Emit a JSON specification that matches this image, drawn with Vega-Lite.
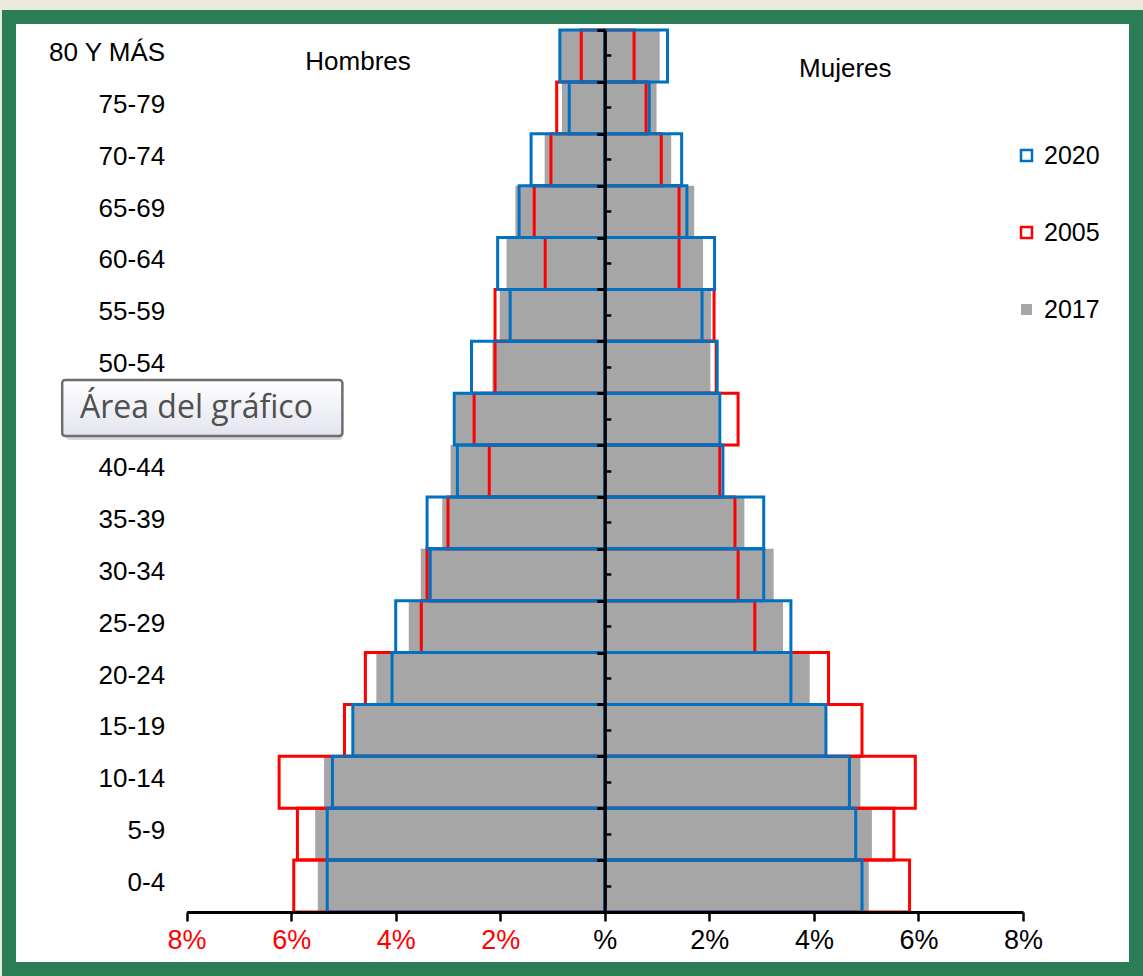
{
  "$schema": "https://vega.github.io/schema/vega-lite/v6.json",
  "width": 1127,
  "height": 952,
  "autosize": {"type": "none"},
  "padding": {"left": 9, "top": 17, "right": 7, "bottom": 7},
  "background": "#ebe9dc",
  "config": {
    "view": {"fill": "#ffffff", "stroke": "#2a7d55", "strokeWidth": 14},
    "font": "Liberation Sans",
    "axis": {"grid": false}
  },
  "datasets": {
    "pob": [
      {"edad": "80 Y MÁS", "sexo": "Hombres", "serie": "2017", "valor": -0.84},
      {"edad": "80 Y MÁS", "sexo": "Mujeres", "serie": "2017", "valor": 1.05},
      {"edad": "75-79", "sexo": "Hombres", "serie": "2017", "valor": -0.82},
      {"edad": "75-79", "sexo": "Mujeres", "serie": "2017", "valor": 0.99},
      {"edad": "70-74", "sexo": "Hombres", "serie": "2017", "valor": -1.15},
      {"edad": "70-74", "sexo": "Mujeres", "serie": "2017", "valor": 1.27},
      {"edad": "65-69", "sexo": "Hombres", "serie": "2017", "valor": -1.71},
      {"edad": "65-69", "sexo": "Mujeres", "serie": "2017", "valor": 1.71},
      {"edad": "60-64", "sexo": "Hombres", "serie": "2017", "valor": -1.88},
      {"edad": "60-64", "sexo": "Mujeres", "serie": "2017", "valor": 1.88},
      {"edad": "55-59", "sexo": "Hombres", "serie": "2017", "valor": -2.01},
      {"edad": "55-59", "sexo": "Mujeres", "serie": "2017", "valor": 2.03},
      {"edad": "50-54", "sexo": "Hombres", "serie": "2017", "valor": -2.15},
      {"edad": "50-54", "sexo": "Mujeres", "serie": "2017", "valor": 2.02},
      {"edad": "45-49", "sexo": "Hombres", "serie": "2017", "valor": -2.86},
      {"edad": "45-49", "sexo": "Mujeres", "serie": "2017", "valor": 2.18},
      {"edad": "40-44", "sexo": "Hombres", "serie": "2017", "valor": -2.95},
      {"edad": "40-44", "sexo": "Mujeres", "serie": "2017", "valor": 2.22},
      {"edad": "35-39", "sexo": "Hombres", "serie": "2017", "valor": -3.11},
      {"edad": "35-39", "sexo": "Mujeres", "serie": "2017", "valor": 2.67},
      {"edad": "30-34", "sexo": "Hombres", "serie": "2017", "valor": -3.52},
      {"edad": "30-34", "sexo": "Mujeres", "serie": "2017", "valor": 3.23},
      {"edad": "25-29", "sexo": "Hombres", "serie": "2017", "valor": -3.75},
      {"edad": "25-29", "sexo": "Mujeres", "serie": "2017", "valor": 3.41},
      {"edad": "20-24", "sexo": "Hombres", "serie": "2017", "valor": -4.37},
      {"edad": "20-24", "sexo": "Mujeres", "serie": "2017", "valor": 3.92},
      {"edad": "15-19", "sexo": "Hombres", "serie": "2017", "valor": -4.80},
      {"edad": "15-19", "sexo": "Mujeres", "serie": "2017", "valor": 4.22},
      {"edad": "10-14", "sexo": "Hombres", "serie": "2017", "valor": -5.37},
      {"edad": "10-14", "sexo": "Mujeres", "serie": "2017", "valor": 4.89},
      {"edad": "5-9", "sexo": "Hombres", "serie": "2017", "valor": -5.54},
      {"edad": "5-9", "sexo": "Mujeres", "serie": "2017", "valor": 5.11},
      {"edad": "0-4", "sexo": "Hombres", "serie": "2017", "valor": -5.49},
      {"edad": "0-4", "sexo": "Mujeres", "serie": "2017", "valor": 5.05},
      {"edad": "80 Y MÁS", "sexo": "Hombres", "serie": "2005", "valor": -0.45},
      {"edad": "80 Y MÁS", "sexo": "Mujeres", "serie": "2005", "valor": 0.56},
      {"edad": "75-79", "sexo": "Hombres", "serie": "2005", "valor": -0.92},
      {"edad": "75-79", "sexo": "Mujeres", "serie": "2005", "valor": 0.79},
      {"edad": "70-74", "sexo": "Hombres", "serie": "2005", "valor": -1.03},
      {"edad": "70-74", "sexo": "Mujeres", "serie": "2005", "valor": 1.08},
      {"edad": "65-69", "sexo": "Hombres", "serie": "2005", "valor": -1.35},
      {"edad": "65-69", "sexo": "Mujeres", "serie": "2005", "valor": 1.42},
      {"edad": "60-64", "sexo": "Hombres", "serie": "2005", "valor": -1.14},
      {"edad": "60-64", "sexo": "Mujeres", "serie": "2005", "valor": 1.42},
      {"edad": "55-59", "sexo": "Hombres", "serie": "2005", "valor": -2.10},
      {"edad": "55-59", "sexo": "Mujeres", "serie": "2005", "valor": 2.09},
      {"edad": "50-54", "sexo": "Hombres", "serie": "2005", "valor": -2.10},
      {"edad": "50-54", "sexo": "Mujeres", "serie": "2005", "valor": 2.13},
      {"edad": "45-49", "sexo": "Hombres", "serie": "2005", "valor": -2.50},
      {"edad": "45-49", "sexo": "Mujeres", "serie": "2005", "valor": 2.55},
      {"edad": "40-44", "sexo": "Hombres", "serie": "2005", "valor": -2.21},
      {"edad": "40-44", "sexo": "Mujeres", "serie": "2005", "valor": 2.20},
      {"edad": "35-39", "sexo": "Hombres", "serie": "2005", "valor": -3.00},
      {"edad": "35-39", "sexo": "Mujeres", "serie": "2005", "valor": 2.49},
      {"edad": "30-34", "sexo": "Hombres", "serie": "2005", "valor": -3.40},
      {"edad": "30-34", "sexo": "Mujeres", "serie": "2005", "valor": 2.55},
      {"edad": "25-29", "sexo": "Hombres", "serie": "2005", "valor": -3.51},
      {"edad": "25-29", "sexo": "Mujeres", "serie": "2005", "valor": 2.87},
      {"edad": "20-24", "sexo": "Hombres", "serie": "2005", "valor": -4.58},
      {"edad": "20-24", "sexo": "Mujeres", "serie": "2005", "valor": 4.28},
      {"edad": "15-19", "sexo": "Hombres", "serie": "2005", "valor": -4.98},
      {"edad": "15-19", "sexo": "Mujeres", "serie": "2005", "valor": 4.92},
      {"edad": "10-14", "sexo": "Hombres", "serie": "2005", "valor": -6.23},
      {"edad": "10-14", "sexo": "Mujeres", "serie": "2005", "valor": 5.94},
      {"edad": "5-9", "sexo": "Hombres", "serie": "2005", "valor": -5.88},
      {"edad": "5-9", "sexo": "Mujeres", "serie": "2005", "valor": 5.53},
      {"edad": "0-4", "sexo": "Hombres", "serie": "2005", "valor": -5.95},
      {"edad": "0-4", "sexo": "Mujeres", "serie": "2005", "valor": 5.83},
      {"edad": "80 Y MÁS", "sexo": "Hombres", "serie": "2020", "valor": -0.86},
      {"edad": "80 Y MÁS", "sexo": "Mujeres", "serie": "2020", "valor": 1.20},
      {"edad": "75-79", "sexo": "Hombres", "serie": "2020", "valor": -0.68},
      {"edad": "75-79", "sexo": "Mujeres", "serie": "2020", "valor": 0.85},
      {"edad": "70-74", "sexo": "Hombres", "serie": "2020", "valor": -1.41},
      {"edad": "70-74", "sexo": "Mujeres", "serie": "2020", "valor": 1.47},
      {"edad": "65-69", "sexo": "Hombres", "serie": "2020", "valor": -1.64},
      {"edad": "65-69", "sexo": "Mujeres", "serie": "2020", "valor": 1.57},
      {"edad": "60-64", "sexo": "Hombres", "serie": "2020", "valor": -2.05},
      {"edad": "60-64", "sexo": "Mujeres", "serie": "2020", "valor": 2.10},
      {"edad": "55-59", "sexo": "Hombres", "serie": "2020", "valor": -1.81},
      {"edad": "55-59", "sexo": "Mujeres", "serie": "2020", "valor": 1.86},
      {"edad": "50-54", "sexo": "Hombres", "serie": "2020", "valor": -2.55},
      {"edad": "50-54", "sexo": "Mujeres", "serie": "2020", "valor": 2.15},
      {"edad": "45-49", "sexo": "Hombres", "serie": "2020", "valor": -2.88},
      {"edad": "45-49", "sexo": "Mujeres", "serie": "2020", "valor": 2.20},
      {"edad": "40-44", "sexo": "Hombres", "serie": "2020", "valor": -2.82},
      {"edad": "40-44", "sexo": "Mujeres", "serie": "2020", "valor": 2.26},
      {"edad": "35-39", "sexo": "Hombres", "serie": "2020", "valor": -3.40},
      {"edad": "35-39", "sexo": "Mujeres", "serie": "2020", "valor": 3.04},
      {"edad": "30-34", "sexo": "Hombres", "serie": "2020", "valor": -3.34},
      {"edad": "30-34", "sexo": "Mujeres", "serie": "2020", "valor": 3.04},
      {"edad": "25-29", "sexo": "Hombres", "serie": "2020", "valor": -4.00},
      {"edad": "25-29", "sexo": "Mujeres", "serie": "2020", "valor": 3.56},
      {"edad": "20-24", "sexo": "Hombres", "serie": "2020", "valor": -4.07},
      {"edad": "20-24", "sexo": "Mujeres", "serie": "2020", "valor": 3.56},
      {"edad": "15-19", "sexo": "Hombres", "serie": "2020", "valor": -4.82},
      {"edad": "15-19", "sexo": "Mujeres", "serie": "2020", "valor": 4.23},
      {"edad": "10-14", "sexo": "Hombres", "serie": "2020", "valor": -5.21},
      {"edad": "10-14", "sexo": "Mujeres", "serie": "2020", "valor": 4.68},
      {"edad": "5-9", "sexo": "Hombres", "serie": "2020", "valor": -5.31},
      {"edad": "5-9", "sexo": "Mujeres", "serie": "2020", "valor": 4.80},
      {"edad": "0-4", "sexo": "Hombres", "serie": "2020", "valor": -5.31},
      {"edad": "0-4", "sexo": "Mujeres", "serie": "2020", "valor": 4.92}
    ]
  },
  "layer": [
    {
      "data": {"name": "pob"},
      "mark": {"type": "bar", "strokeWidth": 3, "strokeJoin": "miter"},
      "encoding": {
        "y": {
          "field": "edad",
          "type": "nominal",
          "scale": {
            "domain": ["80 Y MÁS", "75-79", "70-74", "65-69", "60-64", "55-59", "50-54", "45-49", "40-44", "35-39", "30-34", "25-29", "20-24", "15-19", "10-14", "5-9", "0-4"],
            "range": [13, 895],
            "paddingInner": 0,
            "paddingOuter": 0
          },
          "axis": {
            "orient": "left",
            "offset": -177.6,
            "domain": false,
            "ticks": false,
            "tickSize": 0,
            "labelPadding": 22,
            "labelFontSize": 26,
            "labelFont": "Liberation Sans",
            "labelColor": "#000000",
            "labelOffset": -3,
            "labelExpr": "datum.value == '45-49' ? '' : datum.value",
            "title": null,
            "zindex": 0
          }
        },
        "x": {
          "field": "valor",
          "type": "quantitative",
          "stack": null,
          "scale": {"domain": [-8, 8], "range": [177.6, 1014], "nice": false, "zero": false},
          "axis": {
            "orient": "bottom",
            "offset": -57,
            "values": [-8, -6, -4, -2, 0, 2, 4, 6, 8],
            "domain": true,
            "domainColor": "#000000",
            "domainWidth": 3,
            "ticks": true,
            "tickColor": "#000000",
            "tickWidth": 2.5,
            "tickSize": 9,
            "labelPadding": 6,
            "labelFontSize": 27,
            "labelFont": "Liberation Sans",
            "labelExpr": "datum.value == 0 ? '%' : abs(datum.value) + '%'",
            "labelColor": {"condition": {"test": "datum.value < 0", "value": "#ff0000"}, "value": "#000000"},
            "labelFlush": false,
            "labelOverlap": false,
            "grid": false,
            "title": null,
            "zindex": 1
          }
        },
        "fill": {
          "field": "serie",
          "type": "nominal",
          "scale": {"domain": ["2020", "2005", "2017"], "range": ["transparent", "transparent", "#a6a6a6"]},
          "legend": {
            "title": null,
            "orient": "none",
            "legendX": 1005,
            "legendY": 126,
            "symbolType": "square",
            "symbolSize": 121,
            "symbolStrokeWidth": 2.5,
            "labelFontSize": 25,
            "labelFont": "Liberation Sans",
            "labelColor": "#000000",
            "rowPadding": 51,
            "labelOffset": 5,
            "padding": 0
          }
        },
        "stroke": {
          "field": "serie",
          "type": "nominal",
          "scale": {"domain": ["2020", "2005", "2017"], "range": ["#0070c0", "#ff0000", "transparent"]},
          "legend": {
            "title": null,
            "orient": "none",
            "legendX": 1005,
            "legendY": 126,
            "symbolType": "square",
            "symbolSize": 121,
            "symbolStrokeWidth": 2.5,
            "labelFontSize": 25,
            "labelFont": "Liberation Sans",
            "labelColor": "#000000",
            "rowPadding": 51,
            "labelOffset": 5,
            "padding": 0
          }
        }
      }
    },
    {
      "data": {"name": "pob"},
      "mark": {"type": "tick", "opacity": 0},
      "encoding": {
        "y": {
          "field": "edad",
          "type": "nominal",
          "axis": {
            "orient": "right",
            "offset": -531.2,
            "domain": true,
            "domainColor": "#000000",
            "domainWidth": 3,
            "ticks": true,
            "tickColor": "#000000",
            "tickSize": 6,
            "tickWidth": 2.5,
            "tickBand": "center",
            "labels": false,
            "title": null,
            "zindex": 2
          }
        },
        "x": {"field": "valor", "type": "quantitative"}
      }
    },
    {
      "data": {"name": "pob"},
      "mark": {"type": "tick", "opacity": 0},
      "encoding": {
        "y": {
          "field": "edad",
          "type": "nominal",
          "axis": {
            "orient": "left",
            "offset": -595.8,
            "domain": false,
            "ticks": true,
            "tickColor": "#000000",
            "tickSize": 8,
            "tickWidth": 3,
            "tickBand": "extent",
            "labels": false,
            "title": null,
            "zindex": 2
          }
        },
        "x": {"field": "valor", "type": "quantitative"}
      }
    },
    {
      "data": {"values": [{}]},
      "mark": {"type": "text", "text": "Hombres", "font": "Liberation Sans", "fontSize": 26, "color": "#000000", "dy": 6},
      "encoding": {
        "x": {"datum": -4.72, "type": "quantitative"},
        "y": {"datum": "80 Y MÁS", "type": "nominal", "axis": null}
      }
    },
    {
      "data": {"values": [{}]},
      "mark": {"type": "text", "text": "Mujeres", "font": "Liberation Sans", "fontSize": 26, "color": "#000000", "dy": 13},
      "encoding": {
        "x": {"datum": 4.6, "type": "quantitative"},
        "y": {"datum": "80 Y MÁS", "type": "nominal", "axis": null}
      }
    },
    {
      "data": {"values": [{}]},
      "mark": {"type": "rect", "fill": "#c9c9c9", "opacity": 0.7, "height": 56, "xOffset": 4, "yOffset": -7, "cornerRadius": 3},
      "encoding": {
        "x": {"datum": -10.38, "type": "quantitative"},
        "x2": {"datum": -5.02},
        "y": {"datum": "45-49", "type": "nominal", "axis": null}
      }
    },
    {
      "data": {"values": [{}]},
      "mark": {
        "type": "rect",
        "height": 56,
        "yOffset": -11,
        "cornerRadius": 3,
        "stroke": "#6e6e6e",
        "strokeWidth": 2.5,
        "fill": {"gradient": "linear", "x1": 0, "y1": 0, "x2": 0, "y2": 1, "stops": [{"offset": 0, "color": "#ffffff"}, {"offset": 1, "color": "#e3e4ef"}]}
      },
      "encoding": {
        "x": {"datum": -10.38, "type": "quantitative"},
        "x2": {"datum": -5.02},
        "y": {"datum": "45-49", "type": "nominal", "axis": null}
      }
    },
    {
      "data": {"values": [{}]},
      "mark": {"type": "text", "text": "Área del gráfico", "font": "Open Sans", "fontSize": 32, "color": "#505050", "align": "left", "dy": -11},
      "encoding": {
        "x": {"datum": -10.04, "type": "quantitative"},
        "y": {"datum": "45-49", "type": "nominal", "axis": null}
      }
    }
  ],
  "resolve": {"axis": {"y": "independent"}}
}
